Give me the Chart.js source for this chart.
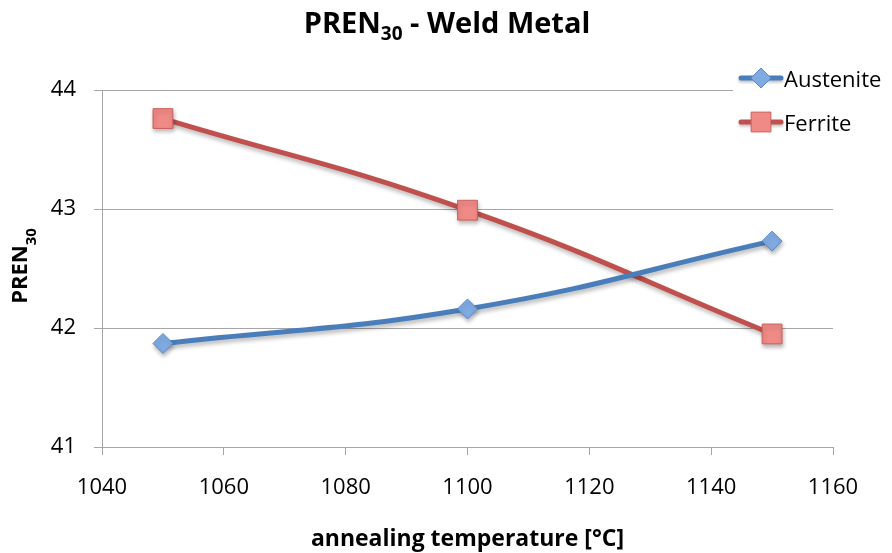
<!DOCTYPE html>
<html>
<head>
<meta charset="utf-8">
<script src="https://cdn.jsdelivr.net/npm/chart.js@4"></script>
<style>
  html, body { margin: 0; padding: 0; background: #fff; }
  #wrap { width: 892px; height: 553px; }
</style>
</head>
<body>
<div id="wrap"><canvas id="chart" width="892" height="553"></canvas></div>
<script>
const temperatures = [1050, 1100, 1150];
const austenite = [41.87, 42.16, 42.73];
const ferrite = [43.76, 42.99, 41.95];
const xTicks = [1040, 1060, 1080, 1100, 1120, 1140, 1160];
const yTicks = [41, 42, 43, 44];

const FONT = '"Open Sans", "Liberation Sans", sans-serif';

function toPoints(values) {
    return temperatures.map((t, i) => ({ x: t, y: values[i] }));
}

// text with a subscript part: [before, sub, after]
function drawSub(ctx, parts, x, y, big, small, drop) {
    ctx.font = big;
    const w1 = ctx.measureText(parts[0]).width;
    const w3 = ctx.measureText(parts[2]).width;
    ctx.font = small;
    const w2 = ctx.measureText(parts[1]).width;
    let sx = x - (w1 + w2 + w3) / 2;
    ctx.textAlign = 'left';
    ctx.textBaseline = 'alphabetic';
    ctx.font = big;
    ctx.fillText(parts[0], sx, y);
    ctx.font = small;
    ctx.fillText(parts[1], sx + w1, y + drop);
    ctx.font = big;
    ctx.fillText(parts[2], sx + w1 + w2, y);
}

const shadowPlugin = {
    id: 'lineShadow',
    beforeDatasetsDraw(chart) {
        const ctx = chart.ctx;
        ctx.save();
        ctx.shadowColor = 'rgba(0,0,0,0.28)';
        ctx.shadowBlur = 4;
        ctx.shadowOffsetX = 1;
        ctx.shadowOffsetY = 3;
    },
    afterDatasetsDraw(chart) {
        chart.ctx.restore();
    }
};

const overlayPlugin = {
    id: 'overlay',
    afterDraw(chart) {
        const ctx = chart.ctx;
        ctx.save();
        ctx.fillStyle = '#000';

        // chart title
        drawSub(ctx, ['PREN', '30', ' - Weld Metal'], 447, 33,
            'bold 29px ' + FONT, 'bold 19px ' + FONT, 7);

        // y axis title
        ctx.save();
        ctx.translate(27, 266);
        ctx.rotate(-Math.PI / 2);
        drawSub(ctx, ['PREN', '30', ''], 0, 0,
            'bold 22px ' + FONT, 'bold 15px ' + FONT, 9);
        ctx.restore();

        // legend
        ctx.fillStyle = '#fff';
        ctx.fillRect(733, 60, 159, 86);
        const rows = [78, 122];
        chart.data.datasets.forEach((ds, i) => {
            const y = rows[i];
            ctx.save();
            ctx.shadowColor = 'rgba(0,0,0,0.25)';
            ctx.shadowBlur = 3;
            ctx.shadowOffsetY = 2;
            ctx.strokeStyle = ds.borderColor;
            ctx.lineWidth = 5;
            ctx.lineCap = 'round';
            ctx.beginPath();
            ctx.moveTo(741, y);
            ctx.lineTo(781, y);
            ctx.stroke();
            ctx.restore();
            ctx.fillStyle = ds.pointBackgroundColor;
            ctx.strokeStyle = ds.pointBorderColor;
            ctx.lineWidth = ds.pointBorderWidth;
            ctx.beginPath();
            if (ds.pointStyle === 'rectRot') {
                const r = ds.pointRadius;
                ctx.moveTo(761, y - r); ctx.lineTo(761 + r, y);
                ctx.lineTo(761, y + r); ctx.lineTo(761 - r, y);
                ctx.closePath();
            } else {
                const s = ds.pointRadius * Math.SQRT1_2;
                ctx.rect(761 - s, y - s, 2 * s, 2 * s);
            }
            ctx.fill();
            ctx.stroke();
            ctx.fillStyle = '#000';
            ctx.font = '22px ' + FONT;
            ctx.textAlign = 'left';
            ctx.textBaseline = 'alphabetic';
            ctx.fillText(ds.label, 784, y + 9);
        });
        ctx.restore();
    }
};

new Chart(document.getElementById('chart'), {
    type: 'line',
    data: {
        datasets: [
            {
                label: 'Austenite',
                data: toPoints(austenite),
                borderColor: '#4A7EBB',
                borderWidth: 5,
                tension: 0.45,
                fill: false,
                pointStyle: 'rectRot',
                pointRadius: 10,
                pointBackgroundColor: '#7FAAE2',
                pointBorderColor: '#5A8ACA',
                pointBorderWidth: 1
            },
            {
                label: 'Ferrite',
                data: toPoints(ferrite),
                borderColor: '#C0504D',
                borderWidth: 5,
                tension: 0.45,
                fill: false,
                pointStyle: 'rect',
                pointRadius: 14,
                pointBackgroundColor: '#F08A86',
                pointBorderColor: '#CC5F5B',
                pointBorderWidth: 1
            }
        ]
    },
    options: {
        responsive: false,
        animation: false,
        layout: {
            padding: { top: 90, right: 59, left: 0, bottom: 0 }
        },
        plugins: {
            legend: { display: false },
            title: { display: false },
            tooltip: { enabled: false }
        },
        scales: {
            x: {
                type: 'linear',
                min: 1040,
                max: 1160,
                afterFit: (scale) => { scale.height = 106; },
                afterBuildTicks: (scale) => {
                    scale.ticks = xTicks.map(v => ({ value: v }));
                },
                grid: {
                    drawOnChartArea: false,
                    drawTicks: true,
                    tickLength: 8,
                    color: '#A6A6A6'
                },
                border: { display: true, color: '#A6A6A6', width: 1 },
                ticks: {
                    padding: 20,
                    color: '#000',
                    font: { family: FONT, size: 22 },
                    callback: (v) => String(v)
                },
                title: {
                    display: true,
                    text: 'annealing temperature [°C]',
                    color: '#000',
                    font: { family: FONT, size: 23, weight: 'bold' },
                    padding: { top: 7, bottom: 0 }
                }
            },
            y: {
                min: 41,
                max: 44,
                afterFit: (scale) => { scale.width = 102; },
                afterBuildTicks: (scale) => {
                    scale.ticks = yTicks.map(v => ({ value: v }));
                },
                grid: {
                    drawTicks: true,
                    tickLength: 8,
                    color: '#A6A6A6'
                },
                border: { display: true, color: '#A6A6A6', width: 1 },
                ticks: {
                    padding: 18,
                    color: '#000',
                    font: { family: FONT, size: 22 },
                    callback: (v) => String(v)
                }
            }
        }
    },
    plugins: [shadowPlugin, overlayPlugin]
});
</script>
</body>
</html>
